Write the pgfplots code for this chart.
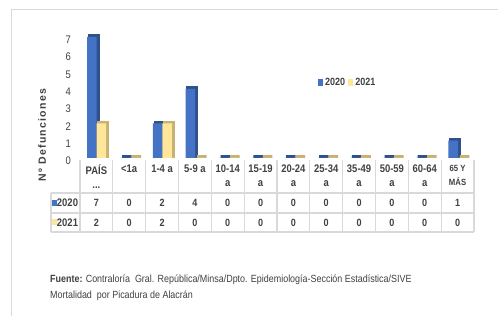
\documentclass[border=0pt]{standalone}
\usepackage{pgfplots}
\pgfplotsset{compat=1.18}
\usepackage{fontspec}
\setmainfont{Liberation Sans}[FakeStretch=0.86]
\newfontfamily\ylabfont{Liberation Sans}[LetterSpace=12]
\definecolor{bfront}{HTML}{4472C4}
\definecolor{bside}{HTML}{2F528F}
\definecolor{yfront}{HTML}{FFE699}
\definecolor{yside}{HTML}{C8B273}
\definecolor{txt}{HTML}{404040}
\definecolor{gridc}{HTML}{D9D9D9}
\newcommand\fs[2][1.25]{\fontsize{#2}{#1\dimexpr #2pt\relax}\selectfont}
\begin{document}
\begin{tikzpicture}
\useasboundingbox (0pt,0pt) rectangle (499pt,316pt);
% frame
\draw[gridc, line width=1pt] (11pt,0pt) -- (11pt,306pt) -- (498pt,306pt);
\begin{axis}[
  at={(80pt,158pt)}, anchor=south west,
  scale only axis, width=394pt, height=129.75pt,
  xmin=-0.5, xmax=11.5, ymin=0, ymax=7.5,
  axis line style={draw=none}, major tick length=0pt,
  clip=false,
  ybar, bar width=9.5pt,
  ytick={0,1,2,3,4,5,6,7},
  /pgf/number format/assume math mode=true,
  yticklabel style={font=\fs{11}, text=txt, anchor=east, inner sep=0pt, xshift=-9pt, yshift=-3pt},
  xtick={0,1,2,3,4,5,6,7,8,9,10,11},
  xticklabels={{\textbf{PAÍS}\\\textbf{...}},{\textbf{<1a}},{\textbf{1-4 a}},{\textbf{5-9 a}},
    {\textbf{10-14}\\\textbf{a}},{\textbf{15-19}\\\textbf{a}},{\textbf{20-24}\\\textbf{a}},
    {\textbf{25-34}\\\textbf{a}},{\textbf{35-49}\\\textbf{a}},{\textbf{50-59}\\\textbf{a}},
    {\textbf{60-64}\\\textbf{a}},{\fs[1.3]{9}\textbf{65 Y}\\\fs[1.3]{9}\textbf{MÁS}}},
  xticklabel style={font=\fs{11}, text=txt, anchor=north, align=center, inner sep=0pt, yshift=-7pt},
  legend style={at={(0.604,0.582)}, anchor=west, draw=none, fill=none, inner sep=0pt,
    font=\fs{10.5}\bfseries, text=txt, legend columns=2,
    /tikz/every even column/.append style={column sep=1pt},
    /tikz/every odd column/.append style={column sep=0pt}},
  legend image code/.code={\fill[#1] (0pt,-3.5pt) rectangle (5pt,3.5pt);},
]
% side/top faces (3D depth)
\addplot[forget plot, bar shift=-2.5pt, yshift=1.5pt, fill=bside, draw=bside, line width=2.5pt]
  coordinates {(0,7) (1,0) (2,2) (3,4) (4,0) (5,0) (6,0) (7,0) (8,0) (9,0) (10,0) (11,1)};
\addplot[forget plot, bar shift=7pt, yshift=1.5pt, fill=yside, draw=yside, line width=2.5pt]
  coordinates {(0,2) (1,0) (2,2) (3,0) (4,0) (5,0) (6,0) (7,0) (8,0) (9,0) (10,0) (11,0)};
% front faces
\addplot[bar shift=-4.5pt, fill=bfront, draw=none]
  coordinates {(0,7) (1,0) (2,2) (3,4) (4,0) (5,0) (6,0) (7,0) (8,0) (9,0) (10,0) (11,1)};
\addlegendentry{2020}
\addplot[bar shift=5pt, fill=yfront, draw=none]
  coordinates {(0,2) (1,0) (2,2) (3,0) (4,0) (5,0) (6,0) (7,0) (8,0) (9,0) (10,0) (11,0)};
\addlegendentry{2021}
\end{axis}
% data table grid
\foreach \k in {0,...,12} {
  \pgfmathsetmacro\xx{80+32.83*\k}
  \draw[gridc, line width=1.2pt] (\xx pt,156pt) -- (\xx pt,84pt);
}
\draw[gridc, line width=1.2pt] (51pt,123pt) -- (51pt,84pt);
\foreach \yy in {123,103,84} {
  \draw[gridc, line width=1.2pt] (51pt,\yy pt) -- (474pt,\yy pt);
}
% row keys
\fill[bfront] (52pt,110pt) rectangle (57pt,116pt);
\node[font=\fs{11}\bfseries, text=txt, inner sep=0pt] at (67.5pt,113pt) {2020};
\fill[yfront] (52pt,90.5pt) rectangle (57pt,96.5pt);
\node[font=\fs{11}\bfseries, text=txt, inner sep=0pt] at (67.5pt,93.5pt) {2021};
% row values
\foreach \v [count=\i from 0] in {7,0,2,4,0,0,0,0,0,0,0,1} {
  \pgfmathsetmacro\xx{96.4+32.83*\i}
  \node[font=\fs{10.5}\bfseries, text=txt, inner sep=0pt] at (\xx pt,113pt) {\v};
}
\foreach \v [count=\i from 0] in {2,0,2,0,0,0,0,0,0,0,0,0} {
  \pgfmathsetmacro\xx{96.4+32.83*\i}
  \node[font=\fs{10.5}\bfseries, text=txt, inner sep=0pt] at (\xx pt,93.5pt) {\v};
}
% y label
\node[rotate=90, font=\ylabfont\fs{10.5}\bfseries, text=txt, inner sep=0pt] at (42pt,181pt) {Nº Defunciones};
% footnote
\node[anchor=base west, font=\fs{10.4}, text=txt, inner sep=0pt] at (50pt,33pt)
  {\textbf{Fuente:} Contraloría\ \ Gral. República/Minsa/Dpto. Epidemiología-Sección Estadística/SIVE};
\node[anchor=base west, font=\fs{10.4}, text=txt, inner sep=0pt] at (50pt,17pt)
  {Mortalidad\ \ por Picadura de Alacrán};
\end{tikzpicture}
\end{document}
